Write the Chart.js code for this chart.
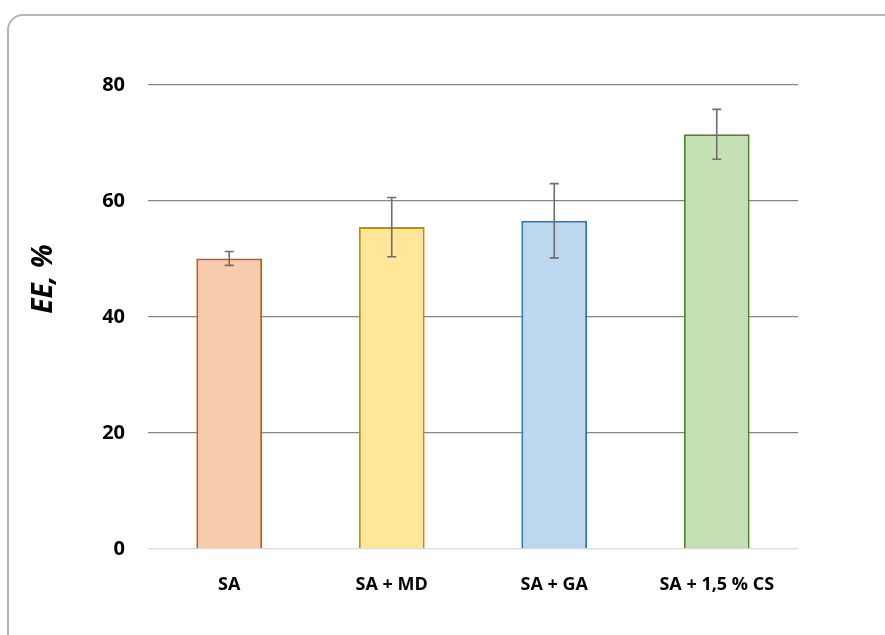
<!DOCTYPE html>
<html>
<head>
<meta charset="utf-8">
<script src="https://cdn.jsdelivr.net/npm/chart.js@4"></script>
<style>
  html, body { margin: 0; padding: 0; background: #fff; overflow: hidden; }
  #wrap { position: relative; width: 885px; height: 635px; }
  #frame { position: absolute; left: 7px; top: 14px; width: 900px; height: 700px;
           border: 2.5px solid #b4b4b4; border-radius: 16px; box-sizing: border-box; }
  canvas { position: absolute; left: 0; top: 0; }
</style>
</head>
<body>
<div id="wrap">
  <div id="frame"></div>
  <canvas id="eeChart" width="885" height="635"></canvas>
</div>
<script>
const categories = ['SA', 'SA + MD', 'SA + GA', 'SA + 1,5 % CS'];
const eeValues = [50.1, 55.5, 56.6, 71.5];
const eeErrors = [1.2, 5.1, 6.4, 4.3];
const yTicks = [0, 20, 40, 60, 80];
const yTitle = 'EE, %';

const fillColors = ['#f8cbad', '#ffe699', '#bdd7ee', '#c5e0b4'];
const edgeColors = ['#c55a11', '#bf9000', '#2e75b6', '#548235'];

// Draws the error bars with the chart's own scales
const errorBars = {
    id: 'errorBars',
    afterDatasetsDraw(chart) {
        const ctx = chart.ctx;
        const y = chart.scales.y;
        const meta = chart.getDatasetMeta(0);
        ctx.save();
        ctx.strokeStyle = '#6e6e6e';
        ctx.lineWidth = 1.6;
        meta.data.forEach((bar, i) => {
            const x = bar.x;
            const top = y.getPixelForValue(eeValues[i] + eeErrors[i]);
            const bot = y.getPixelForValue(eeValues[i] - eeErrors[i]);
            ctx.beginPath();
            ctx.moveTo(x, top); ctx.lineTo(x, bot);
            ctx.moveTo(x - 4.5, top); ctx.lineTo(x + 4.5, top);
            ctx.moveTo(x - 4.5, bot); ctx.lineTo(x + 4.5, bot);
            ctx.stroke();
        });
        ctx.restore();
    }
};

// Y axis title sits a bit above the axis middle, like the original
const axisTitle = {
    id: 'axisTitle',
    afterDraw(chart) {
        const ctx = chart.ctx;
        ctx.save();
        ctx.translate(44, 279);
        ctx.rotate(-Math.PI / 2);
        ctx.font = 'italic bold 28px "Open Sans"';
        ctx.fillStyle = '#000';
        ctx.textAlign = 'center';
        ctx.textBaseline = 'middle';
        ctx.fillText(yTitle, 0, 0);
        ctx.restore();
    }
};

new Chart(document.getElementById('eeChart').getContext('2d'), {
    type: 'bar',
    data: {
        labels: categories,
        datasets: [{
            data: eeValues,
            backgroundColor: fillColors,
            borderColor: edgeColors,
            borderWidth: 2,
            categoryPercentage: 1,
            barPercentage: 0.405
        }]
    },
    options: {
        responsive: false,
        animation: false,
        layout: { padding: { top: 85, right: 87, left: 0, bottom: 0 } },
        plugins: { legend: { display: false }, tooltip: { enabled: false } },
        scales: {
            x: {
                grid: { display: false },
                border: { display: false },
                ticks: {
                    color: '#000',
                    padding: 17,
                    font: { family: 'Open Sans', size: 18, weight: 'bold' }
                },
                afterFit: s => { s.height = 86; }
            },
            y: {
                min: 0, max: 80,
                afterBuildTicks: s => { s.ticks = yTicks.map(v => ({ value: v })); },
                grid: {
                    drawTicks: false,
                    lineWidth: 1.3,
                    color: c => c.tick && c.tick.value === 0 ? '#d9d9d9' : '#868686'
                },
                border: { display: false },
                ticks: {
                    color: '#000',
                    padding: 23,
                    font: { family: 'Open Sans', size: 20, weight: 'bold' }
                },
                afterFit: s => { s.width = 148; }
            }
        }
    },
    plugins: [errorBars, axisTitle]
});
</script>
</body>
</html>
